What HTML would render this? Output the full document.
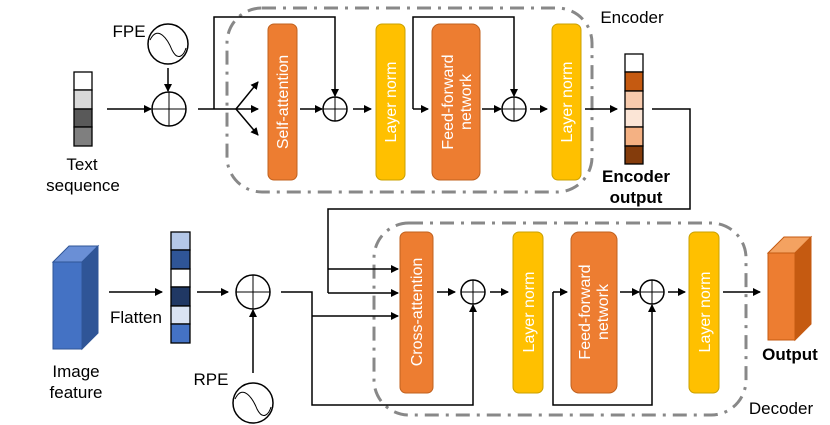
<!DOCTYPE html><html><head><style>body{margin:0;background:#fff}svg{display:block}text{font-family:"Liberation Sans",sans-serif}</style></head><body>
<svg width="830" height="425" viewBox="0 0 830 425" xmlns="http://www.w3.org/2000/svg">
<defs><marker id="a" markerWidth="8" markerHeight="8" refX="7" refY="4" orient="auto" markerUnits="userSpaceOnUse"><path d="M0,0 L8,4 L0,8z" fill="#000"/></marker></defs>
<g fill="none" stroke="#888" stroke-width="3" stroke-dasharray="14,7,3,7">
<rect x="227" y="8" width="365" height="184" rx="35"/>
<rect x="374" y="223" width="372" height="192" rx="35"/>
</g>
<rect x="74" y="72" width="18" height="18" fill="#fff" stroke="#000" stroke-width="1.3"/><rect x="74" y="90" width="18" height="19" fill="#d9d9d9" stroke="#000" stroke-width="1.3"/><rect x="74" y="109" width="18" height="18" fill="#595959" stroke="#000" stroke-width="1.3"/><rect x="74" y="127" width="18" height="19" fill="#7f7f7f" stroke="#000" stroke-width="1.3"/>
<g stroke="#000" stroke-width="1.3">
<rect x="625" y="54" width="18" height="18" fill="#fff"/><rect x="625" y="72" width="18" height="19" fill="#C55A11"/><rect x="625" y="91" width="18" height="18" fill="#F8CBAD"/><rect x="625" y="109" width="18" height="18" fill="#FBE5D6"/><rect x="625" y="127" width="18" height="19" fill="#F4B183"/><rect x="625" y="146" width="18" height="18" fill="#843C0C"/>
<rect x="171" y="232" width="19" height="18" fill="#B4C7E7"/><rect x="171" y="250" width="19" height="19" fill="#2F5597"/><rect x="171" y="269" width="19" height="18" fill="#fff"/><rect x="171" y="287" width="19" height="19" fill="#203864"/><rect x="171" y="306" width="19" height="18" fill="#DAE3F3"/><rect x="171" y="324" width="19" height="19" fill="#4472C4"/>
</g>
<g stroke-width="1">
<rect x="268" y="24" width="29" height="156" rx="6" fill="#ED7D31" stroke="#C0611E"/>
<rect x="376" y="24" width="29" height="156" rx="6" fill="#FFC000" stroke="#C9A000"/>
<rect x="432" y="24" width="48" height="156" rx="8" fill="#ED7D31" stroke="#C0611E"/>
<rect x="552" y="24" width="29" height="156" rx="6" fill="#FFC000" stroke="#C9A000"/>
<rect x="400" y="232" width="33" height="161" rx="6" fill="#ED7D31" stroke="#C0611E"/>
<rect x="513" y="232" width="30" height="161" rx="6" fill="#FFC000" stroke="#C9A000"/>
<rect x="571" y="232" width="46" height="161" rx="8" fill="#ED7D31" stroke="#C0611E"/>
<rect x="689" y="232" width="30" height="161" rx="6" fill="#FFC000" stroke="#C9A000"/>
</g>
<g fill="#fff" font-size="16" text-anchor="middle">
<text transform="translate(288,102) rotate(-90)">Self-attention</text>
<text transform="translate(396,102) rotate(-90)">Layer norm</text>
<text transform="translate(453,102) rotate(-90)">Feed-forward</text>
<text transform="translate(471,102) rotate(-90)">network</text>
<text transform="translate(572,102) rotate(-90)">Layer norm</text>
<text transform="translate(422,312) rotate(-90)">Cross-attention</text>
<text transform="translate(534,312) rotate(-90)">Layer norm</text>
<text transform="translate(590,312) rotate(-90)">Feed-forward</text>
<text transform="translate(608,312) rotate(-90)">network</text>
<text transform="translate(710,312) rotate(-90)">Layer norm</text>
</g>
<path d="M53,262 L69,246 L98,246 L82,262z" fill="#6A8FD6" stroke="#2F5597"/>
<path d="M82,262 L98,246 L98,333 L82,349z" fill="#2F5597" stroke="#2F5597"/>
<rect x="53" y="262" width="29" height="87" fill="#4472C4" stroke="#2F5597"/>
<path d="M768,253 L784,237 L811,237 L795,253z" fill="#F4A261" stroke="#C55A11"/>
<path d="M795,253 L811,237 L811,324 L795,340z" fill="#C55A11" stroke="#C55A11"/>
<rect x="768" y="253" width="27" height="87" fill="#ED7D31" stroke="#C55A11"/>
<g stroke="#000" stroke-width="1.5" fill="#fff">
<circle cx="168" cy="44" r="20"/><circle cx="253" cy="403" r="20"/>
<circle cx="169" cy="109" r="17"/><circle cx="253" cy="292" r="17"/>
<circle cx="335" cy="109" r="12"/><circle cx="514" cy="109" r="12"/>
<circle cx="473" cy="292" r="12"/><circle cx="652" cy="292" r="12"/>
</g>
<g stroke="#000" stroke-width="1" fill="none">
<path d="M152,109h34M169,92v34M236,292h34M253,275v34M323,109h24M335,97v24M502,109h24M514,97v24M461,292h24M473,280v24M640,292h24M652,280v24"/>
<path d="M150,40 C158,24 168,40 172,50 C178,62 184,55 186,48"/>
<path d="M235,399 C243,383 253,399 257,409 C263,421 269,414 271,407"/>
</g>
<path d="M198,109H236" stroke="#000" stroke-width="1.5"/>
<g stroke="#000" stroke-width="1.5" fill="none" marker-end="url(#a)">
<path d="M107,109H151"/><path d="M168,68V91"/>
<path d="M236,109L258,82"/><path d="M236,109H258"/><path d="M236,109L258,135"/>
<path d="M214,109V17H335V96"/>
<path d="M300,109H322"/><path d="M353,109H371"/>
<path d="M413,109V17H514V96"/>
<path d="M413,109H428"/><path d="M482,109H501"/><path d="M530,109H547"/>
<path d="M585,109H617"/>
<path d="M109,292H162"/><path d="M197,292H228"/><path d="M253,373V310"/>
<path d="M328,269H398"/><path d="M328,293H398"/>
<path d="M312,316H398"/>
<path d="M281,292H312V405H473V305"/>
<path d="M437,292H455"/><path d="M490,292H508"/>
<path d="M553,292H567"/><path d="M620,292H639"/><path d="M668,292H685"/>
<path d="M553,292V405H652V305"/>
<path d="M723,292H760"/>
</g>
<path d="M652,109H690V209H328V293" stroke="#000" stroke-width="1.5" fill="none"/>
<g font-size="17" fill="#000" text-anchor="middle">
<text x="129" y="37">FPE</text>
<text x="82" y="170">Text</text><text x="83" y="191">sequence</text>
<text x="632" y="23">Encoder</text>
<text x="136" y="323">Flatten</text>
<text x="76" y="377">Image</text><text x="76" y="398">feature</text>
<text x="211" y="385">RPE</text>
<text x="781" y="414">Decoder</text>
<text x="636" y="182" font-weight="bold">Encoder</text><text x="636" y="203" font-weight="bold">output</text>
<text x="790" y="360" font-weight="bold">Output</text>
</g>
</svg></body></html>
